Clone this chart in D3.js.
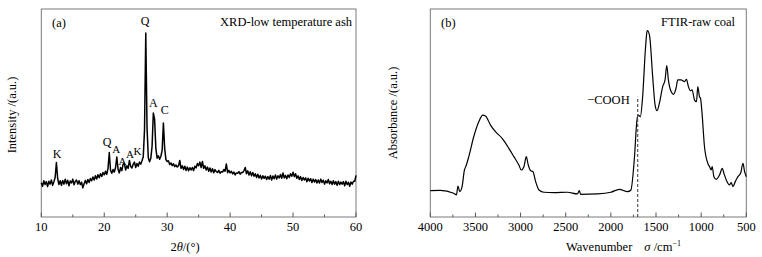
<!DOCTYPE html>
<html>
<head>
<meta charset="utf-8">
<script src="https://cdn.jsdelivr.net/npm/d3@7"></script>
<style>
  body { margin: 0; background: #fff; }
  text { font-family: "Liberation Serif", "Times New Roman", serif; fill: #000; }
</style>
</head>
<body>
<div id="chart"></div>
<script>
// XRD (a) - 2theta from 10 to 60, step 0.2
const xrdStart = 10, xrdStep = 0.2;
const xrdIntensity = [
  165, 148, 174, 156, 170, 146, 172, 158, 178, 152,
  170, 190, 262, 185, 156, 174, 152, 176, 158, 182,
  160, 177, 150, 173, 164, 182, 155, 172, 178, 158,
  174, 156, 167, 140, 160, 176, 160, 180, 166, 185,
  174, 192, 178, 198, 183, 203, 189, 208, 195, 214,
  203, 220, 205, 234, 310, 225, 210, 228, 216, 238,
  288, 228, 212, 238, 223, 254, 258, 226, 246, 234,
  272, 243, 236, 254, 264, 238, 257, 244, 264, 254,
  270, 290, 420, 885, 430, 285, 266, 282, 340, 500,
  470, 330, 283, 294, 278, 292, 320, 452, 330, 276,
  267, 270, 252, 260, 247, 256, 242, 250, 240, 246,
  272, 234, 246, 228, 244, 224, 240, 222, 237, 226,
  238, 223, 244, 236, 257, 246, 264, 238, 267, 234,
  246, 226, 240, 220, 236, 216, 232, 213, 228, 218,
  214, 224, 210, 218, 216, 228, 220, 255, 213, 224,
  212, 220, 207, 216, 202, 212, 210, 218, 206, 214,
  214, 223, 238, 208, 222, 202, 217, 198, 214, 196,
  208, 190, 206, 188, 200, 183, 198, 186, 196, 180,
  194, 182, 200, 178, 197, 184, 202, 182, 198, 188,
  204, 186, 212, 188, 200, 184, 202, 190, 208, 196,
  215, 194, 208, 186, 198, 180, 194, 176, 190, 178,
  188, 170, 186, 173, 184, 166, 182, 168, 180, 164,
  178, 163, 182, 166, 177, 158, 174, 164, 180, 160,
  172, 156, 174, 158, 170, 153, 172, 156, 168, 158,
  170, 150, 172, 156, 167, 148, 168, 158, 172, 172,
  200
];
const xrdPeakNames = ['K', 'Q', 'A', 'A', 'A', 'K', 'Q', 'A', 'C'];
const xrdPeakPos = [12.5, 20.45, 21.9, 22.9, 24.1, 25.3, 26.5, 27.8, 29.6];
const xrdPeakHeight = [283, 341, 310, 252, 282, 296, 925, 530, 495];

// FTIR (b)
const wavenumber = [4000, 3889, 3741, 3711, 3693, 3674, 3648, 3622, 3607, 3574,
  3519, 3463, 3419, 3389, 3333, 3278, 3204, 3130, 3074, 3019,
  2993, 2963, 2937, 2915, 2889, 2863, 2833, 2796, 2741, 2630,
  2481, 2370, 2350, 2335, 2148, 2000, 1907, 1815, 1778, 1741,
  1711, 1696, 1674, 1648, 1618, 1600, 1593, 1570, 1537, 1510,
  1489, 1463, 1426, 1400, 1381, 1363, 1333, 1307, 1278, 1259,
  1222, 1185, 1163, 1141, 1119, 1100, 1074, 1052, 1037, 1019,
  1007, 993, 963, 926, 907, 889, 878, 859, 833, 796,
  766, 748, 722, 685, 667, 648, 622, 593, 563, 537, 519, 500];
const absorbance = [0.127, 0.128, 0.114, 0.106, 0.149, 0.122, 0.146, 0.226, 0.242, 0.290,
  0.386, 0.458, 0.490, 0.486, 0.442, 0.410, 0.378, 0.330, 0.290, 0.250,
  0.226, 0.242, 0.290, 0.250, 0.223, 0.218, 0.170, 0.130, 0.119, 0.117,
  0.119, 0.111, 0.127, 0.109, 0.111, 0.119, 0.133, 0.122, 0.130, 0.274,
  0.466, 0.490, 0.482, 0.579, 0.803, 0.891, 0.896, 0.867, 0.675, 0.538,
  0.511, 0.546, 0.627, 0.659, 0.728, 0.659, 0.603, 0.590, 0.619, 0.659,
  0.659, 0.651, 0.662, 0.627, 0.607, 0.611, 0.563, 0.554, 0.627, 0.579,
  0.571, 0.514, 0.338, 0.258, 0.242, 0.226, 0.242, 0.194, 0.181, 0.202,
  0.234, 0.210, 0.178, 0.154, 0.165, 0.146, 0.170, 0.194, 0.210, 0.258, 0.218, 0.194];
const coohPos = 1703, coohTop = 0.578;

const xrdTicks = [10, 20, 30, 40, 50, 60];
const ftirTicks = [4000, 3500, 3000, 2500, 2000, 1500, 1000, 500];

const W = 762, H = 257;
const plotTop = 9, plotBottom = 217;
const svg = d3.select('#chart').append('svg').attr('width', W).attr('height', H);

function frame(g, x, major, minor) {
  const [x0, x1] = x.range();
  g.append('rect')
    .attr('x', x0).attr('y', plotTop).attr('width', x1 - x0).attr('height', plotBottom - plotTop)
    .attr('fill', 'none').attr('stroke', '#7a7a7a').attr('stroke-width', 1);
  // inward ticks
  g.selectAll('line.major').data(major).join('line').attr('class', 'major')
    .attr('x1', d => x(d)).attr('x2', d => x(d)).attr('y1', plotBottom).attr('y2', plotBottom - 4.5)
    .attr('stroke', '#555');
  g.selectAll('line.minor').data(minor).join('line').attr('class', 'minor')
    .attr('x1', d => x(d)).attr('x2', d => x(d)).attr('y1', plotBottom).attr('y2', plotBottom - 2.5)
    .attr('stroke', '#555');
  g.selectAll('text.tick').data(major).join('text').attr('class', 'tick')
    .attr('x', d => x(d)).attr('y', plotBottom + 14).attr('text-anchor', 'middle')
    .attr('font-size', 12.5).text(d => d);
}

// ---- panel (a) ----
const xA = d3.scaleLinear().domain([10, 60]).range([41.3, 356]);
const yA = d3.scaleLinear().domain([0, 1000]).range([plotBottom, plotTop]);
const gA = svg.append('g');
frame(gA, xA, xrdTicks, [15, 25, 35, 45, 55]);

const lineA = d3.line().x((d, i) => xA(xrdStart + i * xrdStep)).y(d => yA(d));
gA.append('path').datum(xrdIntensity)
  .attr('d', lineA).attr('fill', 'none').attr('stroke', '#000').attr('stroke-width', 1.5)
  .attr('stroke-linejoin', 'round');

// small labels in the crowded 21-25 degree region
gA.selectAll('text.peak').data(xrdPeakNames).join('text').attr('class', 'peak')
  .attr('x', (d, i) => xA(xrdPeakPos[i])).attr('y', (d, i) => yA(xrdPeakHeight[i]))
  .attr('text-anchor', 'middle')
  .attr('font-size', (d, i) => (i >= 2 && i <= 5) ? 11 : 12)
  .text(d => d);

gA.append('text').attr('x', 52).attr('y', 27).attr('font-size', 12.5).text('(a)');
gA.append('text').attr('x', 352).attr('y', 26).attr('text-anchor', 'end')
  .attr('font-size', 12.5).text('XRD-low temperature ash');
gA.append('text').attr('transform', 'translate(16,115) rotate(-90)')
  .attr('text-anchor', 'middle').attr('font-size', 12.5).text('Intensity /(a.u.)');
const xlabA = gA.append('text').attr('x', 185).attr('y', 251)
  .attr('text-anchor', 'middle').attr('font-size', 12.5);
xlabA.append('tspan').text('2');
xlabA.append('tspan').attr('font-style', 'italic').text('θ');
xlabA.append('tspan').text('/(°)');

// ---- panel (b) ----
const xB = d3.scaleLinear().domain([4000, 500]).range([430.3, 746.3]);
const yB = d3.scaleLinear().domain([0, 1]).range([plotBottom, plotTop]);
const gB = svg.append('g');
frame(gB, xB, ftirTicks, [3750, 3250, 2750, 2250, 1750, 1250, 750]);

const ftir = wavenumber.map((w, i) => [w, absorbance[i]]);
const lineB = d3.line().x(d => xB(d[0])).y(d => yB(d[1])).curve(d3.curveMonotoneX);
gB.append('path').datum(ftir)
  .attr('d', lineB).attr('fill', 'none').attr('stroke', '#000').attr('stroke-width', 1.2);

gB.append('line')
  .attr('x1', xB(coohPos)).attr('x2', xB(coohPos)).attr('y1', plotBottom).attr('y2', yB(coohTop))
  .attr('stroke', '#555').attr('stroke-width', 1.2).attr('stroke-dasharray', '3,2');
gB.append('text').attr('x', xB(coohPos) - 8).attr('y', yB(coohTop) + 7)
  .attr('text-anchor', 'end').attr('font-size', 12.5).text('−COOH');

gB.append('text').attr('x', 441).attr('y', 27).attr('font-size', 12.5).text('(b)');
gB.append('text').attr('x', 735).attr('y', 26).attr('text-anchor', 'end')
  .attr('font-size', 12.5).text('FTIR-raw coal');
gB.append('text').attr('transform', 'translate(397,113) rotate(-90)')
  .attr('text-anchor', 'middle').attr('font-size', 12.5).text('Absorbance /(a.u.)');
const xlabB = gB.append('text').attr('x', 566).attr('y', 251).attr('font-size', 12.5);
xlabB.append('tspan').text('Wavenumber');
xlabB.append('tspan').attr('dx', 12).attr('font-style', 'italic').text('σ');
xlabB.append('tspan').text(' /cm');
xlabB.append('tspan').attr('dy', -5).attr('font-size', 8).text('−1');
</script>
</body>
</html>
